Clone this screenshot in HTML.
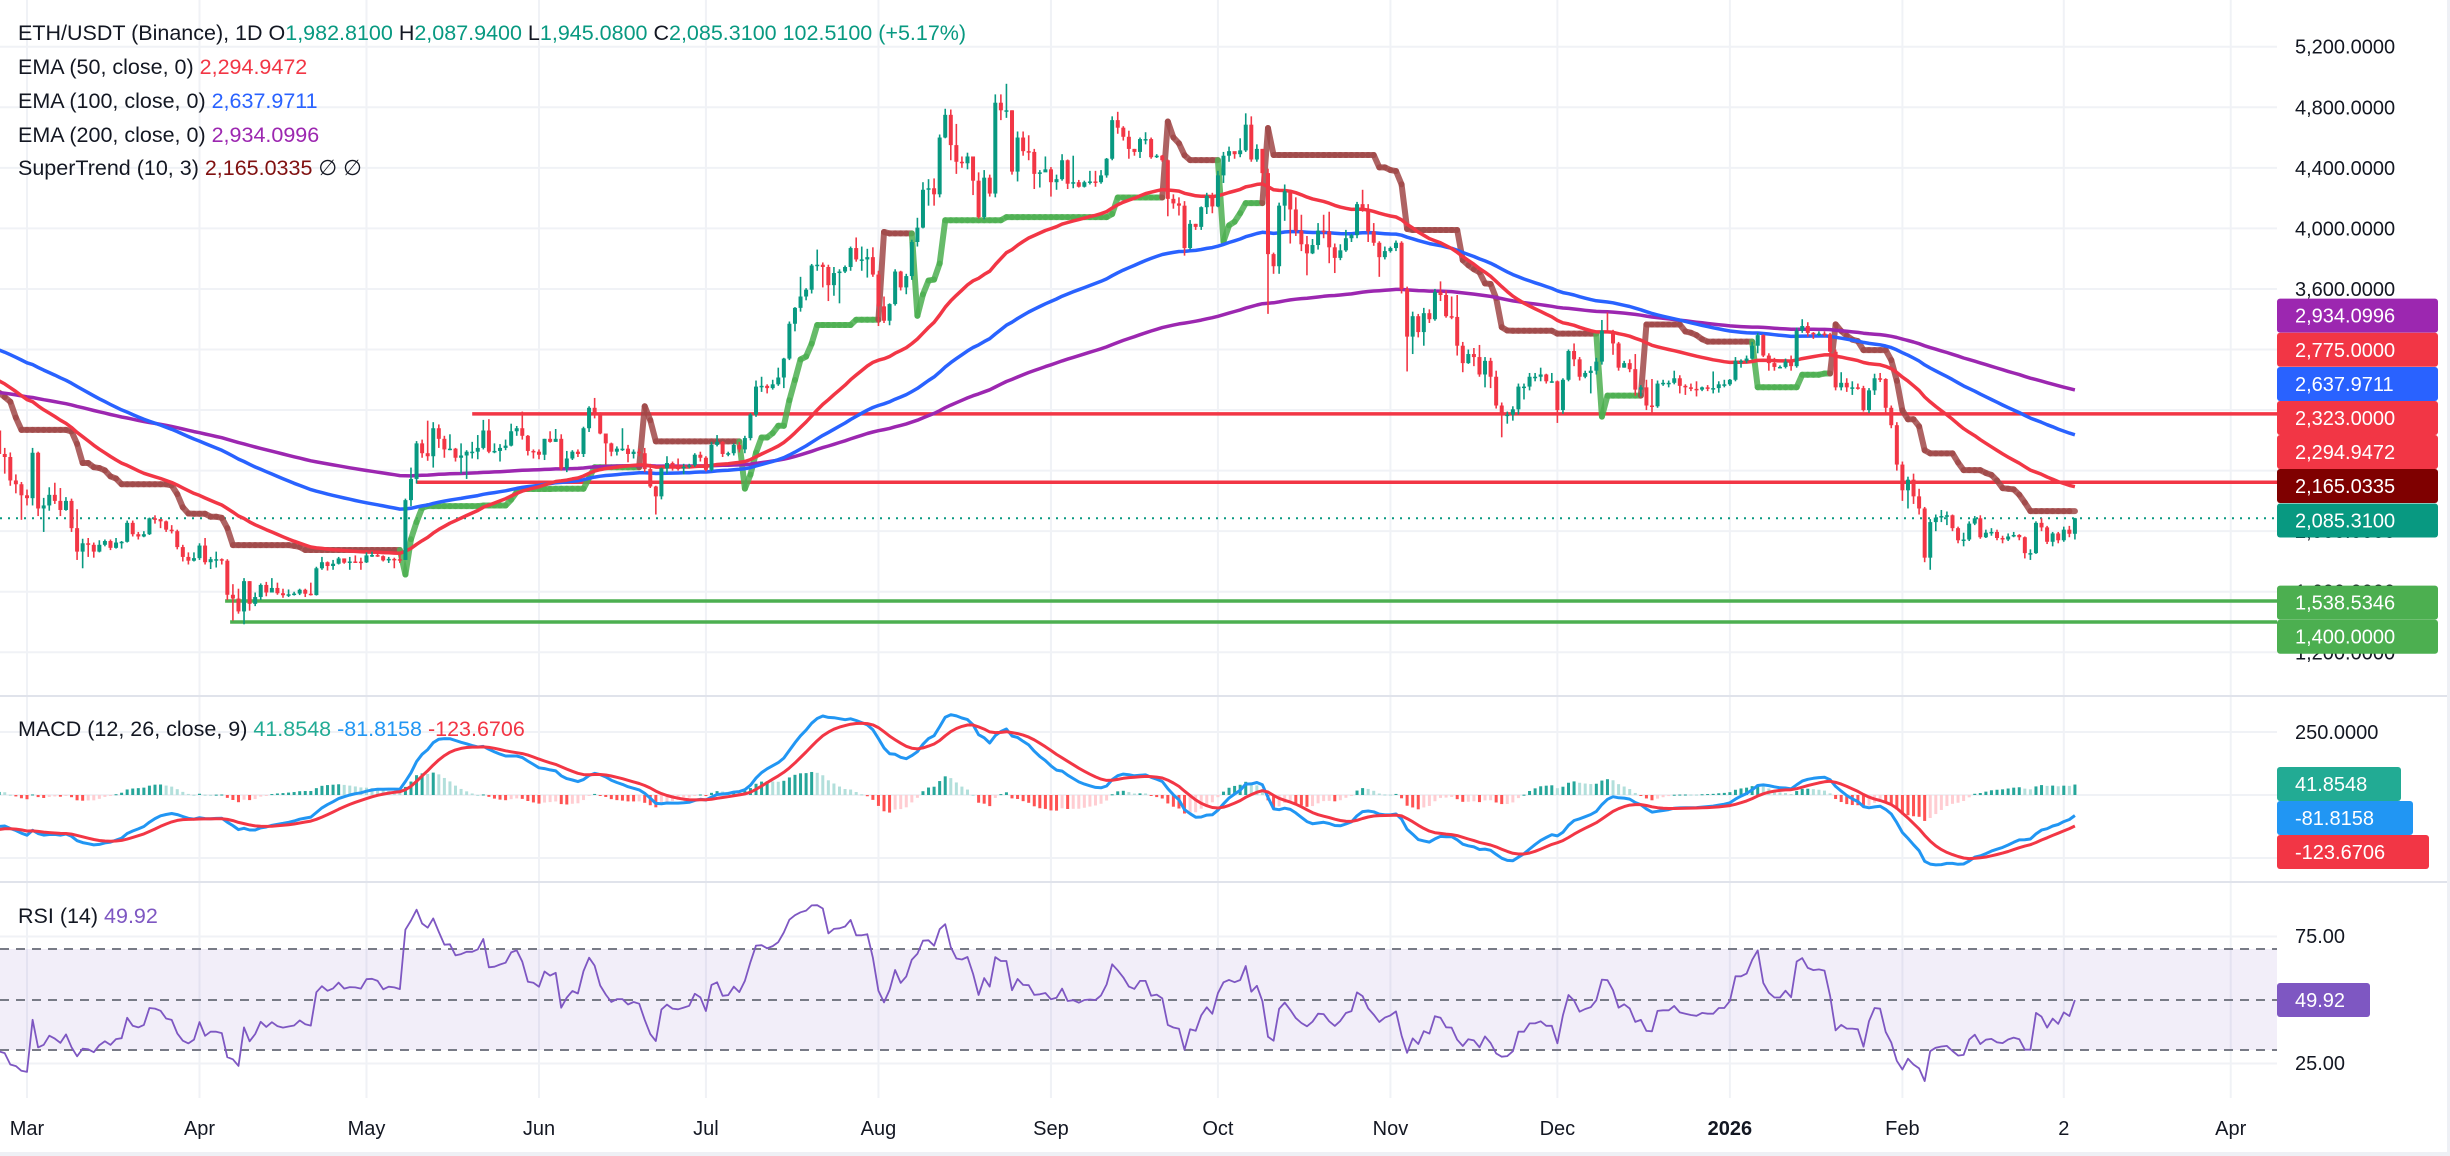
<!DOCTYPE html>
<html><head><meta charset="utf-8">
<style>
html,body{margin:0;padding:0;background:#fff;}
body{width:2450px;height:1156px;overflow:hidden;position:relative;font-family:"Liberation Sans",sans-serif;}
svg{position:absolute;left:0;top:0;}
text{font-family:"Liberation Sans",sans-serif;}
</style></head>
<body>
<svg id="chart" width="2450" height="1156" viewBox="0 0 2450 1156" xmlns="http://www.w3.org/2000/svg">
<defs>
<clipPath id="cpMain"><rect x="0" y="0" width="2277" height="695"/></clipPath>
<clipPath id="cpMacd"><rect x="0" y="698" width="2277" height="183"/></clipPath>
<clipPath id="cpRsi"><rect x="0" y="884" width="2277" height="214"/></clipPath>
</defs>
<g id="grid"></g>
<rect x="0" y="949" width="2277" height="101" fill="#7E57C2" fill-opacity="0.1"/>
<line x1="0" x2="2277" y1="949" y2="949" stroke="#787B86" stroke-width="2" stroke-dasharray="9,7"/>
<line x1="0" x2="2277" y1="1000" y2="1000" stroke="#787B86" stroke-width="2" stroke-dasharray="9,7"/>
<line x1="0" x2="2277" y1="1050" y2="1050" stroke="#787B86" stroke-width="2" stroke-dasharray="9,7"/>
<line x1="0" x2="2450" y1="696" y2="696" stroke="#E0E3EB" stroke-width="2"/>
<line x1="0" x2="2450" y1="882" y2="882" stroke="#E0E3EB" stroke-width="2"/>
<rect x="0" y="1152" width="2450" height="4" fill="#EEF0F5"/>
<rect x="2447" y="0" width="3" height="1156" fill="#EEF0F5"/>
<g id="main" clip-path="url(#cpMain)"></g>
<g id="macd" clip-path="url(#cpMacd)"></g>
<g id="rsi" clip-path="url(#cpRsi)"></g>
<g id="axes"></g>

<g font-size="21.5" fill="#131722">
<text x="18" y="40">ETH/USDT (Binance), 1D  O<tspan fill="#089981">1,982.8100</tspan> H<tspan fill="#089981">2,087.9400</tspan> L<tspan fill="#089981">1,945.0800</tspan> C<tspan fill="#089981">2,085.3100</tspan> <tspan fill="#089981">102.5100 (+5.17%)</tspan></text>
<text x="18" y="74">EMA (50, close, 0)  <tspan fill="#F23645">2,294.9472</tspan></text>
<text x="18" y="108">EMA (100, close, 0)  <tspan fill="#2962FF">2,637.9711</tspan></text>
<text x="18" y="142">EMA (200, close, 0)  <tspan fill="#9C27B0">2,934.0996</tspan></text>
<text x="18" y="175">SuperTrend (10, 3)  <tspan fill="#801010">2,165.0335</tspan>  <tspan fill="#131722">∅  ∅</tspan></text>
</g>
<text x="18" y="736" font-size="21.5" fill="#131722">MACD (12, 26, close, 9)  <tspan fill="#22AB94">41.8548</tspan>  <tspan fill="#2196F3">-81.8158</tspan>  <tspan fill="#F23645">-123.6706</tspan></text>
<text x="18" y="923" font-size="21.5" fill="#131722">RSI (14)  <tspan fill="#7E57C2">49.92</tspan></text>
</svg>
<script>
// ---- data (daily candles, Feb 24 2025 -> Mar 4 2026) ----
const firstOpen = 2665;
const closes = [
2510,2490,2335,2310,2237,
2218,2518,2150,2170,2240,2200,2140,2200,2020,1865,1920,1910,1865,1910,1935,1890,1925,1930,2055,1980,1965,1980,2085,2080,2065,2010,2000,1895,1830,1805,1822,
1905,1795,1815,1815,1805,1580,1555,1470,1670,1520,1565,1645,1595,1625,1590,1577,1583,1588,1613,1587,1578,1755,1795,1770,1785,1820,1792,1800,1799,1794,
1840,1842,1835,1807,1817,1815,1810,2205,2345,2580,2515,2495,2680,2610,2540,2545,2485,2500,2525,2525,2550,2665,2525,2530,2550,2565,2660,2680,2630,2530,2525,
2505,2610,2590,2610,2415,2480,2525,2510,2680,2815,2770,2645,2580,2525,2545,2545,2510,2525,2515,2410,2295,2230,2415,2450,2420,2415,2425,2435,2505,2485,
2405,2570,2590,2510,2515,2570,2540,2615,2770,2955,2960,2945,2970,3015,3140,3370,3475,3550,3595,3755,3760,3745,3625,3705,3715,3745,3870,3795,3795,3810,3695,
3485,3390,3500,3715,3610,3685,3910,4005,4255,4265,4225,4600,4750,4550,4440,4430,4475,4315,4075,4335,4230,4830,4780,4780,4375,4600,4510,4505,4360,4370,4390,
4305,4325,4450,4295,4305,4275,4305,4310,4305,4350,4460,4715,4665,4605,4525,4505,4590,4590,4470,4480,4450,4195,4165,4150,3870,4030,4010,4140,4215,4145,
4350,4480,4510,4490,4515,4685,4455,4525,4365,3830,3750,4150,4245,4125,3985,3895,3835,3890,3985,3980,3875,3805,3855,3935,3955,4160,4120,3980,3905,3810,3850,
3870,3905,3600,3285,3420,3315,3440,3400,3580,3560,3420,3415,3225,3110,3170,3150,3035,3125,3020,2830,2765,2770,2805,2955,2955,3020,3020,3035,2990,2990,
2800,3000,3190,3135,3020,3045,3060,3120,3325,3320,3240,3080,3110,3070,2935,2950,2830,2825,2975,2980,2980,3010,2960,2950,2940,2935,2950,2945,2945,2970,2970,
3000,3125,3125,3140,3225,3295,3160,3110,3085,3085,3120,3090,3325,3355,3310,3300,3305,3300,3185,2950,2980,2950,2950,2945,2800,2930,3010,3005,2815,2700,2440,
2270,2340,2230,2150,1825,2060,2090,2100,2105,2020,1940,1945,2050,2085,1960,1990,1995,1955,1945,1965,1975,1960,1855,1855,2055,2025,1930,1985,
1940,2010,1982.81,2085.31];
const highs = [
2690,2550,2520,2375,2325,
2275,2550,2525,2220,2290,2320,2285,2225,2215,2145,1950,1955,1925,1940,1945,1945,1955,1935,2070,2070,1995,2000,2090,2105,2080,2070,2040,2010,1910,1860,1860,
1920,1955,1830,1865,1820,1815,1650,1620,1690,1670,1595,1655,1665,1690,1660,1620,1615,1600,1620,1620,1660,1765,1830,1800,1810,1830,1820,1830,1840,1825,
1860,1865,1850,1840,1830,1825,1865,2215,2420,2595,2605,2730,2720,2705,2630,2640,2550,2580,2535,2590,2635,2735,2740,2580,2575,2605,2710,2695,2790,2635,2540,
2540,2610,2660,2675,2640,2530,2535,2540,2690,2825,2880,2785,2625,2585,2560,2680,2570,2540,2545,2550,2445,2300,2420,2495,2460,2480,2445,2445,2515,2525,
2495,2590,2635,2595,2525,2580,2590,2630,2780,2995,3020,2970,3000,3080,3145,3385,3480,3680,3605,3765,3860,3775,3760,3745,3730,3755,3880,3940,3880,3865,3875,
3720,3550,3505,3730,3720,3700,3925,4070,4305,4325,4330,4620,4790,4785,4690,4475,4500,4470,4370,4385,4355,4885,4885,4955,4780,4640,4640,4615,4525,4385,4475,
4405,4355,4490,4455,4480,4320,4315,4380,4380,4385,4465,4740,4770,4675,4645,4525,4600,4635,4600,4490,4485,4455,4225,4205,4180,4055,4030,4145,4235,4235,
4380,4505,4540,4505,4595,4760,4740,4555,4525,4395,3840,4170,4290,4185,4205,4090,3950,3930,4035,4090,4110,3900,3895,3990,3965,4175,4255,4160,4035,3915,3880,
3880,3920,3915,3615,3450,3435,3475,3465,3600,3650,3590,3550,3560,3250,3200,3210,3230,3150,3145,3060,2850,2790,2825,2975,2975,3045,3045,3080,3040,3045,
2995,3010,3200,3240,3150,3060,3090,3145,3395,3445,3330,3250,3125,3135,3170,2965,3000,3005,2995,3000,2995,3060,3030,2970,2975,2990,2955,2965,3055,2990,3000,
3005,3150,3135,3160,3250,3310,3300,3175,3145,3095,3140,3160,3345,3400,3380,3315,3320,3320,3310,3200,3050,3010,2990,2975,2960,2945,3040,3045,3010,2830,2720,
2460,2360,2380,2280,2160,2080,2110,2140,2130,2110,2030,1990,2065,2100,2105,2010,2020,2010,1970,1985,1995,1980,1965,1880,2065,2085,2035,1995,
1995,2030,2035,2087.94];
const lows = [
2490,2380,2300,2250,2075,
2170,2170,2100,1995,2135,2180,2100,2135,1995,1810,1755,1830,1825,1860,1900,1875,1885,1885,1925,1965,1945,1960,1975,2050,2020,1995,1985,1880,1800,1780,1800,
1810,1780,1750,1760,1780,1545,1410,1455,1385,1475,1505,1545,1570,1595,1580,1560,1565,1575,1578,1565,1575,1575,1745,1740,1745,1780,1785,1745,1790,1745,
1790,1830,1830,1800,1790,1755,1790,1810,2165,2315,2485,2465,2420,2550,2485,2535,2460,2380,2345,2480,2475,2540,2515,2515,2460,2535,2560,2630,2605,2500,2480,
2475,2470,2585,2590,2400,2390,2470,2490,2490,2655,2745,2640,2440,2495,2500,2530,2455,2480,2495,2390,2285,2110,2210,2380,2400,2400,2375,2415,2425,2460,
2395,2395,2560,2490,2495,2500,2520,2515,2600,2755,2920,2910,2935,2960,2945,3130,3320,3450,3525,3570,3720,3610,3520,3555,3505,3705,3720,3780,3720,3675,3680,
3355,3375,3360,3490,3590,3565,3660,3880,4000,4150,4150,4205,4595,4450,4360,4400,4390,4220,4065,4060,4210,4205,4715,4730,4355,4310,4480,4450,4260,4270,4380,
4210,4255,4315,4260,4265,4270,4270,4290,4275,4295,4335,4450,4625,4580,4460,4480,4465,4555,4460,4465,4440,4080,4130,4085,3820,3860,3990,3990,4095,4100,
4140,4300,4440,4460,4470,4505,4440,4440,4300,3435,3700,3700,4050,3900,3950,3850,3690,3830,3860,3935,3770,3705,3790,3845,3910,3935,4110,3910,3885,3680,3795,
3840,3850,3570,3055,3170,3280,3225,3375,3390,3520,3410,3400,3160,3050,3105,3090,3020,2950,2945,2810,2620,2710,2730,2770,2870,2930,2990,2990,2975,2980,
2715,2775,2990,3090,2995,3010,2910,3035,3100,3310,3165,3060,3080,3050,2895,2890,2800,2775,2815,2960,2950,2970,2910,2900,2925,2890,2925,2925,2910,2915,2950,
2960,2990,3080,3110,3135,3175,3150,3060,3060,3075,3075,3060,3080,3310,3285,3270,3290,3285,3175,2930,2930,2920,2900,2935,2790,2780,2900,2985,2780,2680,2400,
2200,2150,2180,2110,1795,1745,2000,2060,2040,2000,1920,1900,1935,2040,1950,1955,1970,1940,1920,1935,1960,1940,1820,1810,1850,2000,1915,1900,
1920,1930,1960,1945.08];
const firstDay = -5; // days relative to Mar 1 2025
const monthLabels = ["Mar","Apr","May","Jun","Jul","Aug","Sep","Oct","Nov","Dec","2026","Feb","2","Apr"];
const monthDays = [0,31,61,92,122,153,184,214,245,275,306,337,366,396];
const priceTicks = [1200,1600,2000,2400,2800,3200,3600,4000,4400,4800,5200];
const priceTickLabels = ["1,200.0000","1,600.0000","2,000.0000","2,400.0000","2,800.0000","3,200.0000","3,600.0000","4,000.0000","4,400.0000","4,800.0000","5,200.0000"];
const resistanceLevels = [2775, 2323];
const resistanceStartDay = [80, 70];
const supportLevels = [1538.5346, 1400];
const supportStartDay = [35.6, 36.5];
const emaSeeds = [3012, 3210, 2920];   // EMA50, EMA100, EMA200 before first bar
const macdSeeds = [2600, 2727, -140];  // EMA12, EMA26, signal
const rsiSeeds = [22, 40];             // avg gain, avg loss
const stSeeds = [130, 2915, 2300];     // ATR, upper band, lower band

// ---- scales ----
const NS = "http://www.w3.org/2000/svg";
const xDay = d => 27 + d * 5.565;
const xIdx = i => xDay(firstDay + i);
const yP = p => 46.7 + (5200 - p) * 0.1514;
const yM = v => 795 - v * 0.252;
const yR = v => 1000 - (v - 50) * 2.54;
function mk(tag, attrs, parent) {
  const el = document.createElementNS(NS, tag);
  for (const k in attrs) el.setAttribute(k, attrs[k]);
  parent.appendChild(el);
  return el;
}
const gGrid = document.getElementById('grid');
const gMain = document.getElementById('main');
const gMacd = document.getElementById('macd');
const gRsi = document.getElementById('rsi');
const gAxes = document.getElementById('axes');
const N = closes.length;
const opens = closes.map((c, i) => i === 0 ? firstOpen : closes[i - 1]);

// grid
monthDays.forEach((d, k) => {
  const x = xDay(d);
  const ln = mk('line', {x1: x, x2: x, y1: 0, y2: 1098, stroke: '#F0F2F6', 'stroke-width': 2}, gGrid);
  
  
  const t = mk('text', {x: x, y: 1135, 'font-size': 20, fill: '#131722', 'text-anchor': 'middle', 'font-weight': monthLabels[k] === '2026' ? 'bold' : 'normal'}, gAxes);
  t.textContent = monthLabels[k];
  
  
});
priceTicks.forEach((p, k) => {
  const ln = mk('line', {x1: 0, x2: 2277, y1: yP(p), y2: yP(p), stroke: '#F0F2F6', 'stroke-width': 2}, gGrid);
  
  
  const t = mk('text', {x: 2295, y: yP(p) + 7, 'font-size': 20, fill: '#131722'}, gAxes);
  t.textContent = priceTickLabels[k];
  
  
});
[250, 0, -250].forEach(v => {
  const ln = mk('line', {x1: 0, x2: 2277, y1: yM(v), y2: yM(v), stroke: '#F0F2F6', 'stroke-width': 2}, gGrid);
  
  
});
[75, 25].forEach(v => {
  const ln = mk('line', {x1: 0, x2: 2277, y1: yR(v), y2: yR(v), stroke: '#F0F2F6', 'stroke-width': 2}, gGrid);
  
  
});

// dotted last price
const dl = mk('line', {x1: 0, x2: 2277, y1: yP(closes[N-1]), y2: yP(closes[N-1]), stroke: '#089981', 'stroke-width': 2, 'stroke-dasharray': '2,6'}, gMain);



// horizontal levels
resistanceLevels.forEach((p, k) => {
  const ln = mk('line', {x1: xDay(resistanceStartDay[k]), x2: 2277, y1: yP(p), y2: yP(p), stroke: '#F23645', 'stroke-width': 3.5}, gMain);
  
  
});
supportLevels.forEach((p, k) => {
  const ln = mk('line', {x1: xDay(supportStartDay[k]), x2: 2277, y1: yP(p), y2: yP(p), stroke: '#4CAF50', 'stroke-width': 3.5}, gMain);
  
  
});

// EMAs
function ema(seed, len) {
  const a = 2 / (len + 1); let e = seed; const out = [];
  closes.forEach(c => { e = e + a * (c - e); out.push(e); });
  return out;
}
const ema50 = ema(emaSeeds[0], 50), ema100 = ema(emaSeeds[1], 100), ema200 = ema(emaSeeds[2], 200);

// SuperTrend
const st = [], stTrend = [];
(function () {
  let atr = stSeeds[0], upPrev = stSeeds[2], dnPrev = stSeeds[1], trend = -1;
  for (let i = 0; i < N; i++) {
    const pc = i === 0 ? opens[0] : closes[i - 1];
    const tr = Math.max(highs[i] - lows[i], Math.abs(highs[i] - pc), Math.abs(lows[i] - pc));
    atr = (atr * 9 + tr) / 10;
    const hl2 = (highs[i] + lows[i]) / 2;
    let up = hl2 - 3 * atr, dn = hl2 + 3 * atr;
    if (pc > upPrev) up = Math.max(up, upPrev);
    if (pc < dnPrev) dn = Math.min(dn, dnPrev);
    if (trend === -1 && closes[i] > dnPrev) trend = 1;
    else if (trend === 1 && closes[i] < upPrev) trend = -1;
    st.push(trend === 1 ? up : dn); stTrend.push(trend);
    upPrev = up; dnPrev = dn;
  }
})();
for (let i = 1; i < N; i++) {
  const seg = mk('line', {x1: xIdx(i-1), y1: yP(st[i-1]), x2: xIdx(i), y2: yP(st[i]), stroke: stTrend[i] === 1 ? '#4CAF50' : '#A04848', 'stroke-opacity': 0.85, 'stroke-width': 6, 'stroke-linecap': 'round'}, gMain);
  
  
}

function poly(vals, fy, color, w, g, name) {
  const pts = vals.map((v, i) => xIdx(i).toFixed(1) + ',' + fy(v).toFixed(1)).join(' ');
  const pl = mk('polyline', {points: pts, fill: 'none', stroke: color, 'stroke-width': w, 'stroke-linejoin': 'round'}, g);
  
  
}
poly(ema200, yP, '#9C27B0', 3.5, gMain, 'ema200-line');
poly(ema100, yP, '#2962FF', 3.5, gMain, 'ema100-line');
poly(ema50, yP, '#F23645', 3.5, gMain, 'ema50-line');

// candles
for (let i = 0; i < N; i++) {
  const up = closes[i] >= opens[i];
  const col = up ? '#089981' : '#F23645';
  const x = xIdx(i);
  const wk = mk('line', {x1: x, x2: x, y1: yP(highs[i]), y2: yP(lows[i]), stroke: col, 'stroke-width': 1.6}, gMain);
  
  
  const yt = yP(Math.max(opens[i], closes[i])), yb = yP(Math.min(opens[i], closes[i]));
  const bd = mk('rect', {x: x - 2, y: yt, width: 4, height: Math.max(1.5, yb - yt), fill: col}, gMain);
  
  
}

// MACD
const macdLine = [], signalLine = [], hist = [];
(function () {
  let e12 = macdSeeds[0], e26 = macdSeeds[1], sig = macdSeeds[2];
  closes.forEach(c => {
    e12 += 2 / 13 * (c - e12); e26 += 2 / 27 * (c - e26);
    const m = e12 - e26; sig += 2 / 10 * (m - sig);
    macdLine.push(m); signalLine.push(sig); hist.push(m - sig);
  });
})();
for (let i = 0; i < N; i++) {
  const h = hist[i], ph = i ? hist[i - 1] : h;
  const col = h >= 0 ? (h >= ph ? '#26A69A' : '#B2DFDB') : (h < ph ? '#FF5252' : '#FFCDD2');
  const b = mk('rect', {x: xIdx(i) - 1.5, y: Math.min(yM(0), yM(h)), width: 3, height: Math.max(1, Math.abs(yM(h) - yM(0))), fill: col}, gMacd);
  
  
}
poly(macdLine, yM, '#2196F3', 3, gMacd, 'macd-line');
poly(signalLine, yM, '#F23645', 3, gMacd, 'signal-line');

// RSI
const rsiVals = [];
(function () {
  let ag = rsiSeeds[0], al = rsiSeeds[1];
  for (let i = 0; i < N; i++) {
    const ch = closes[i] - opens[i];
    ag = (ag * 13 + Math.max(ch, 0)) / 14; al = (al * 13 + Math.max(-ch, 0)) / 14;
    rsiVals.push(100 - 100 / (1 + ag / al));
  }
})();
poly(rsiVals, yR, '#7E57C2', 1.8, gRsi, 'rsi-line');

// axis value badges
const badges = [
  ['2,934.0996', '#9C27B0', 315.6, 2438, 'ema200-price-label'],
  ['2,775.0000', '#F23645', 349.8, 2438, 'resistance-2775-label'],
  ['2,637.9711', '#2962FF', 384.0, 2438, 'ema100-price-label'],
  ['2,323.0000', '#F23645', 418.0, 2438, 'resistance-2323-label'],
  ['2,294.9472', '#F23645', 452.0, 2438, 'ema50-price-label'],
  ['2,165.0335', '#7F0000', 486.0, 2438, 'supertrend-price-label'],
  ['2,085.3100', '#089981', 520.5, 2438, 'last-price-label'],
  ['1,538.5346', '#4CAF50', 602.6, 2438, 'support-1538-label'],
  ['1,400.0000', '#4CAF50', 636.7, 2438, 'support-1400-label'],
  ['41.8548', '#22AB94', 784, 2401, 'macd-histogram-label'],
  ['-81.8158', '#2196F3', 818, 2413, 'macd-value-label'],
  ['-123.6706', '#F23645', 852, 2429, 'signal-value-label'],
  ['49.92', '#7E57C2', 1000, 2370, 'rsi-value-label']
];
[['250.0000', 732], ['75.00', 936], ['25.00', 1063]].forEach(a => {
  const t = mk('text', {x: 2295, y: a[1] + 7, 'font-size': 20, fill: '#131722'}, gAxes);
  t.textContent = a[0];
  
  
});
badges.forEach(b => {
  const r = mk('rect', {x: 2277, y: b[2] - 17, width: b[3] - 2277, height: 34, rx: 3, fill: b[1]}, gAxes);
  
  
  const t = mk('text', {x: 2295, y: b[2] + 7, 'font-size': 20, fill: '#FFFFFF'}, gAxes);
  t.textContent = b[0];
  
  
});
</script>
</body></html>
